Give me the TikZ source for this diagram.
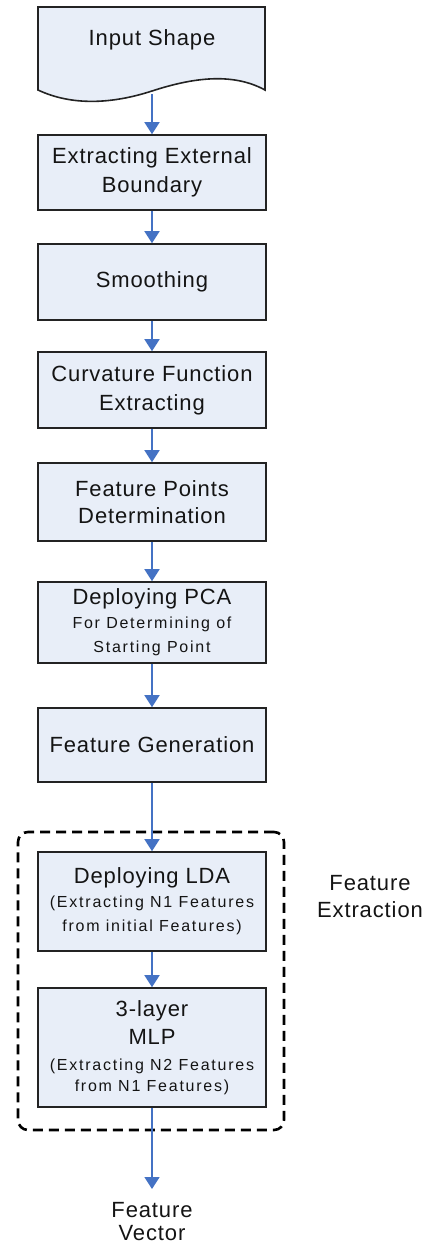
\documentclass[tikz,border=0pt]{standalone}
\usepackage{fontspec}
\setmainfont{Liberation Sans}
\newfontfamily\lsbigfam[LetterSpace=4]{Liberation Sans}
\newfontfamily\lssmallfam[LetterSpace=11]{Liberation Sans}
\newcommand{\bigtxt}{\lsbigfam\fontsize{22}{29}\selectfont}
\newcommand{\smalltxt}{\lssmallfam\fontsize{16}{24}\selectfont}
\usetikzlibrary{arrows.meta}
\definecolor{boxfill}{RGB}{232,238,248}
\definecolor{arrowblue}{RGB}{68,114,196}
\definecolor{edgegray}{RGB}{35,35,35}
\definecolor{txt}{RGB}{20,20,20}
\tikzset{
  procbox/.style={draw=edgegray, line width=1.6pt, fill=boxfill, minimum width=228pt,
    align=center, font=\bigtxt, text=txt, inner sep=0pt},
  flow/.style={draw=arrowblue, line width=1.6pt, -{Triangle[length=12pt,width=15pt]}, arrowblue},
  plain/.style={align=center, font=\bigtxt, text=txt, inner sep=0pt},
  group/.style={draw=black, line width=2.6pt, dash pattern=on 10pt off 6pt, rounded corners=10pt,
    minimum width=266pt, minimum height=298pt, inner sep=0pt}
}
\begin{document}
\begin{tikzpicture}[x=1pt,y=1pt]
\useasboundingbox (0,0) rectangle (427,-1247);
% input document shape
\draw[draw=edgegray, line width=1.6pt, fill=boxfill]
  (38,-7) -- (265,-7) -- (265,-90)
  .. controls (232,-72) and (192,-78) .. (152,-91)
  .. controls (112,-104) and (72,-106) .. (38,-90) -- cycle;
\node[plain] (input) at (152,-40) {Input Shape};
\coordinate (inbot) at (152,-94);

\node[procbox, minimum height=75pt] (ext) at (152,-172.5) {Extracting External\\Boundary};
\node[procbox, minimum height=76pt] (smooth) at (152,-282) {Smoothing};
\node[procbox, minimum height=76pt] (curv) at (152,-390) {Curvature Function\\Extracting};
\node[procbox, minimum height=78pt] (fp) at (152,-502) {Feature Points\\[-2pt]Determination};
\node[procbox, minimum height=81pt] (pca) at (152,-622.5) {Deploying PCA\\[-5pt]{\smalltxt For Determining of}\\[-5pt]{\smalltxt Starting Point}};
\node[procbox, minimum height=74pt] (fg) at (152,-745) {Feature Generation};

\node[group] (grp) at (151,-981) {};
\node[procbox, minimum height=99pt] (lda) at (152,-901.5) {Deploying LDA\\[-5pt]{\smalltxt (Extracting N1 Features}\\[-5pt]{\smalltxt from initial Features)}};
\node[procbox, minimum height=119pt] (mlp) at (152,-1047.5) {3-layer\\[-1pt]MLP\\[-3pt]{\smalltxt (Extracting N2 Features}\\[-8pt]{\smalltxt from N1 Features)}};

\node[plain] (fe) at (370,-897) {Feature\\[-2pt]Extraction};
\node[plain, anchor=north, inner ysep=13pt] (fv) at (152,-1189) {Feature\\[-6pt]Vector};

\draw[flow] (inbot) -- (ext.north);
\draw[flow] (ext) -- (smooth);
\draw[flow] (smooth) -- (curv);
\draw[flow] (curv) -- (fp);
\draw[flow] (fp) -- (pca);
\draw[flow] (pca) -- (fg);
\draw[flow] (fg) -- (lda);
\draw[flow] (lda) -- (mlp);
\draw[flow] (mlp) -- (fv.north);
\end{tikzpicture}
\end{document}
